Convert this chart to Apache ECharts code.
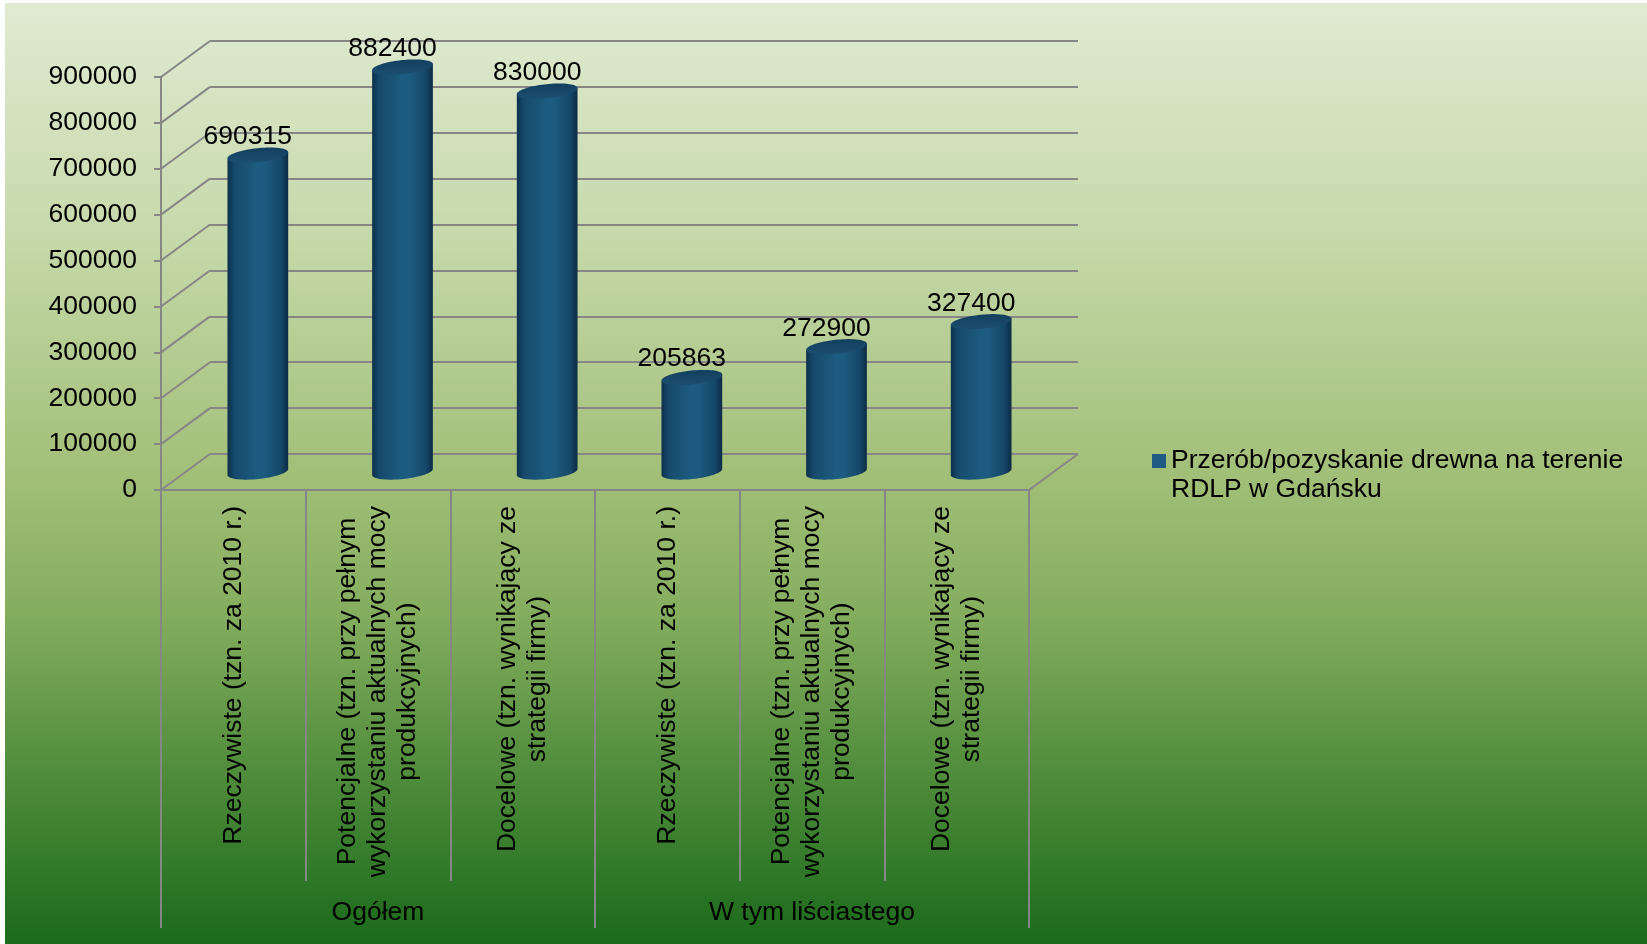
<!DOCTYPE html>
<html>
<head>
<meta charset="utf-8">
<script src="https://cdn.jsdelivr.net/npm/echarts@6/dist/echarts.min.js"></script>
<style>
  html, body { margin: 0; padding: 0; background: #ffffff; }
  #chart { width: 1647px; height: 944px; }
</style>
</head>
<body>
<div id="chart"></div>
<script>
// ---- data ----
const categories = [
  'Rzeczywiste (tzn. za 2010 r.)',
  'Potencjalne (tzn. przy pełnym\nwykorzystaniu aktualnych mocy\nprodukcyjnych)',
  'Docelowe (tzn. wynikający ze\nstrategii firmy)',
  'Rzeczywiste (tzn. za 2010 r.)',
  'Potencjalne (tzn. przy pełnym\nwykorzystaniu aktualnych mocy\nprodukcyjnych)',
  'Docelowe (tzn. wynikający ze\nstrategii firmy)'
];
const groups = ['Ogółem', 'W tym liściastego'];
const values = [690315, 882400, 830000, 205863, 272900, 327400];
const yTicks = [0, 100000, 200000, 300000, 400000, 500000, 600000, 700000, 800000, 900000];
const seriesName = 'Przerób/pozyskanie drewna na terenie\nRDLP w Gdańsku';

// ---- look ----
const FONT = '"Liberation Sans", Arial, sans-serif';
const FS = 26.5;
const GRID_COLOR = '#868686';
const DEPTH = [49, -36];          // oblique offset from front plane to back wall
const TILT = 6 * Math.PI / 180;   // slant of the cylinder ellipses
const FRONT = { left: 161, top: 77, width: 868, height: 413 };

const chart = echarts.init(document.getElementById('chart'), null, { renderer: 'canvas' });

// point on a slanted ellipse (right side raised)
function ellPoint(cx, cy, rx, ry, t) {
  const x = rx * Math.cos(t), y = ry * Math.sin(t);
  const c = Math.cos(TILT), s = Math.sin(TILT);
  return [cx + x * c + y * s, cy - x * s + y * c];
}

function renderCylinder(params, api) {
  const xi = api.value(0), v = api.value(1);
  const top = api.coord([xi, v]);
  const base = api.coord([xi, 0]);
  const band = api.size([1, 0])[0];
  const rx = band * 0.211;
  const ry = 7;
  const cx = top[0] + DEPTH[0] / 2;
  const ty = top[1] + DEPTH[1] / 2;
  const by = base[1] + DEPTH[1] / 2;

  const bodyPts = [ellPoint(cx, ty, rx, ry, 0)];
  const N = 40;
  for (let k = 0; k <= N; k++) bodyPts.push(ellPoint(cx, by, rx, ry, Math.PI * k / N));
  bodyPts.push(ellPoint(cx, ty, rx, ry, Math.PI));

  const topPts = [];
  for (let k = 0; k < 80; k++) topPts.push(ellPoint(cx, ty, rx, ry, 2 * Math.PI * k / 80));

  return {
    type: 'group',
    children: [
      {
        type: 'polygon',
        shape: { points: bodyPts },
        style: {
          fill: {
            type: 'linear', x: 0, y: 0, x2: 1, y2: 0,
            colorStops: [
              { offset: 0, color: '#0d304b' },
              { offset: 0.12, color: '#164a6c' },
              { offset: 0.5, color: '#1d5c81' },
              { offset: 0.62, color: '#1c5a7f' },
              { offset: 0.88, color: '#154869' },
              { offset: 1, color: '#0b2b44' }
            ]
          },
          stroke: null
        }
      },
      {
        type: 'polygon',
        shape: { points: topPts },
        style: {
          fill: {
            type: 'linear', x: 0, y: 0, x2: 0, y2: 1,
            colorStops: [
              { offset: 0, color: '#143f5e' },
              { offset: 1, color: '#1a4e70' }
            ]
          },
          stroke: null
        }
      },
      {
        type: 'text',
        style: {
          text: String(v),
          x: cx - 10,
          y: ty - 18.5,
          fill: '#000',
          fontFamily: FONT,
          fontSize: FS,
          align: 'center',
          verticalAlign: 'middle'
        }
      }
    ]
  };
}

// left wall diagonals and the right edge of the floor
function renderFrame(params, api) {
  const v = api.value(1);
  const band = api.size([1, 0])[0];
  const p = api.coord([0, v]);
  const x0 = p[0] - band / 2;
  const lineStyle = { stroke: GRID_COLOR, lineWidth: 2 };
  const children = [{
    type: 'line',
    shape: { x1: x0, y1: p[1], x2: x0 + DEPTH[0], y2: p[1] + DEPTH[1] },
    style: lineStyle
  }];
  if (v === 0) {
    const q = api.coord([categories.length - 1, 0]);
    const x1 = q[0] + band / 2;
    children.push({
      type: 'line',
      shape: { x1: x1, y1: q[1], x2: x1 + DEPTH[0], y2: q[1] + DEPTH[1] },
      style: lineStyle
    });
  }
  return { type: 'group', children: children };
}

const option = {
  animation: false,
  graphic: [{
    type: 'rect',
    z: -10,
    silent: true,
    shape: { x: 5, y: 3, width: 1642, height: 941 },
    style: {
      fill: {
        type: 'linear', x: 0, y: 0, x2: 0, y2: 1,
        colorStops: [
          { offset: 0, color: '#e0ebd2' },
          { offset: 0.1, color: '#d6e3c2' },
          { offset: 0.25, color: '#c6d9aa' },
          { offset: 0.5, color: '#a2bf78' },
          { offset: 0.65, color: '#84ad5e' },
          { offset: 0.8, color: '#55903f' },
          { offset: 1, color: '#1a6a1a' }
        ]
      }
    }
  }],
  grid: [
    { left: FRONT.left, top: FRONT.top, width: FRONT.width, height: FRONT.height },
    { left: FRONT.left + DEPTH[0], top: FRONT.top + DEPTH[1], width: FRONT.width, height: FRONT.height }
  ],
  xAxis: [
    {
      type: 'category', gridIndex: 0, data: categories, position: 'bottom',
      axisLine: { show: true, lineStyle: { color: GRID_COLOR, width: 2 } },
      axisTick: { show: true, length: 391, lineStyle: { color: GRID_COLOR, width: 2 } },
      splitLine: { show: false },
      axisLabel: {
        interval: 0, rotate: 90, margin: 16,
        color: '#000', fontFamily: FONT, fontSize: FS, lineHeight: 30,
        formatter: function (v) {
          return v.split('\n').map(function (s) { return '{c|' + s + '}'; }).join('\n');
        },
        rich: { c: { align: 'center', color: '#000', fontFamily: FONT, fontSize: FS, lineHeight: 30 } }
      }
    },
    {
      type: 'category', gridIndex: 0, data: groups, position: 'bottom',
      axisLine: { show: false },
      axisTick: { show: true, length: 438, lineStyle: { color: GRID_COLOR, width: 2 } },
      splitLine: { show: false },
      axisLabel: { interval: 0, margin: 408, color: '#000', fontFamily: FONT, fontSize: FS, lineHeight: 30 }
    },
    { type: 'category', gridIndex: 1, data: categories, show: false }
  ],
  yAxis: [
    {
      type: 'value', gridIndex: 0, min: 0, max: 900000, interval: 100000,
      axisLine: { show: true, lineStyle: { color: GRID_COLOR, width: 2 } },
      axisTick: { show: true, length: 7, lineStyle: { color: GRID_COLOR, width: 2 } },
      splitLine: { show: false },
      axisLabel: {
        margin: 24, color: '#000', fontFamily: FONT, fontSize: FS,
        formatter: function (v) { return String(v); }
      }
    },
    {
      type: 'value', gridIndex: 1, min: 0, max: 900000, interval: 100000,
      axisLine: { show: false }, axisTick: { show: false }, axisLabel: { show: false },
      splitLine: { show: true, lineStyle: { color: GRID_COLOR, width: 2 } }
    }
  ],
  legend: {
    left: 1152, top: 446.5, padding: 0,
    orient: 'vertical',
    selectedMode: false,
    itemWidth: 14, itemHeight: 43,
    textStyle: { color: '#000', fontFamily: FONT, fontSize: FS, lineHeight: 29 },
    data: [{ name: seriesName, icon: 'path://M0,0L14,0L14,14L0,14Z M0,43L0.01,43L0.01,43.01L0,43.01Z' }]
  },
  series: [
    {
      type: 'custom', name: 'frame', xAxisIndex: 0, yAxisIndex: 0, z: 1, silent: true,
      renderItem: renderFrame,
      encode: { x: 0, y: 1 },
      data: yTicks.map(function (v) { return [0, v]; })
    },
    {
      type: 'custom', name: seriesName, xAxisIndex: 0, yAxisIndex: 0, z: 3,
      itemStyle: { color: '#1f5a82' },
      renderItem: renderCylinder,
      encode: { x: 0, y: 1 },
      data: values.map(function (v, i) { return [i, v]; })
    }
  ]
};

chart.setOption(option);
</script>
</body>
</html>
